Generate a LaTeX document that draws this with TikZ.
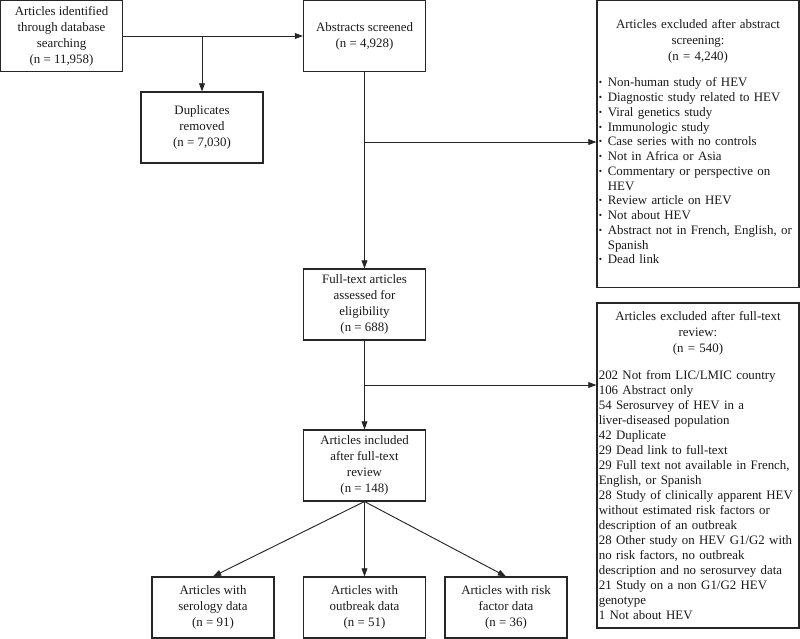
\documentclass[tikz,border=0pt]{standalone}
\usepackage{fontspec}
\setmainfont{Liberation Serif}
\usetikzlibrary{arrows.meta}

\newcommand{\bul}[1]{\par\noindent\makebox[0.7em][l]{\raisebox{0.15ex}{\footnotesize\textbullet}}#1}
\newcommand{\cont}[1]{\par\noindent\hspace*{0.7em}#1}

\begin{document}
\begin{tikzpicture}[x=0.03cm, y=-0.03cm,
        box/.style={draw=black!85, line width=0.9pt, align=center, minimum width=3.66cm, minimum height=2.13cm, inner sep=2pt, text=black!90, font=\fontsize{11}{13.6}\selectfont},
        excl/.style={draw=black!85, line width=0.9pt, align=left, text width=5.95cm, inner xsep=0.055cm, text=black!90, font=\fontsize{11}{13.6}\selectfont},
        link/.style={draw=black!85, line width=0.8pt, -{Triangle[length=7pt, width=5pt]}}]
    \useasboundingbox (0, 0) rectangle (800, 639);

    \node[box] (ident) at (61.5, 36) {Articles identified\\through database\\searching\\(n = 11,958)};
    \node[box] (screened) at (364.5, 36) {Abstracts screened\\(n = 4,928)};
    \node[box] (dupl) at (202, 127.5) {Duplicates\\removed\\(n = 7,030)};
    \node[box] (fulltext) at (364.5, 304.5) {Full-text articles\\assessed for\\eligibility\\(n = 688)};
    \node[box] (included) at (364.5, 465.5) {Articles included\\after full-text\\review\\(n = 148)};
    \node[box, minimum height=1.83cm] (serology) at (213, 607.5) {Articles with\\serology data\\(n = 91)};
    \node[box, minimum height=1.83cm] (outbreak) at (364.5, 607.5) {Articles with\\outbreak data\\(n = 51)};
    \node[box, minimum height=1.83cm] (riskfac) at (506, 607.5) {Articles with risk\\factor data\\(n = 36)};

    \node[excl, minimum height=8.61cm] (exclabs) at (698, 144) {%
        {\centering Articles excluded after abstract\\screening:\\(n = 4,240)\par}
        \vspace{10pt}
        {\fontsize{11}{12.6}\selectfont
        \bul{Non-human study of HEV}
        \bul{Diagnostic study related to HEV}
        \bul{Viral genetics study}
        \bul{Immunologic study}
        \bul{Case series with no controls}
        \bul{Not in Africa or Asia}
        \bul{Commentary or perspective on}
        \cont{HEV}
        \bul{Review article on HEV}
        \bul{Not about HEV}
        \bul{Abstract not in French, English, or}
        \cont{Spanish}
        \bul{Dead link}\par}
        \vspace{4pt}};
    \node[excl, minimum height=9.75cm] (exclft) at (698, 465.5) {%
        {\centering Articles excluded after full-text\\review:\\(n = 540)\par}
        \vspace{10pt}
        {\fontsize{11}{12.8}\selectfont
        202 Not from LIC/LMIC country\\
        106 Abstract only\\
        54 Serosurvey of HEV in a\\
        liver-diseased population\\
        42 Duplicate\\
        29 Dead link to full-text\\
        29 Full text not available in French,\\
        English, or Spanish\\
        28 Study of clinically apparent HEV\\
        without estimated risk factors or\\
        description of an outbreak\\
        28 Other study on HEV G1/G2 with\\
        no risk factors, no outbreak\\
        description and no serosurvey data\\
        21 Study on a non G1/G2 HEV\\
        genotype\\
        1 Not about HEV\par}};

    \coordinate (split1) at (202, 36);
    \coordinate (split2) at (364.5, 142);
    \coordinate (split3) at (364.5, 385);

    \draw[link] (ident) -- (screened);
    \draw[link] (split1) -- (dupl);
    \draw[link] (screened) -- (fulltext);
    \draw[link] (split2) -- (split2 -| exclabs.west);
    \draw[link] (fulltext) -- (included);
    \draw[link] (split3) -- (split3 -| exclft.west);

    \draw[link] (included.south) -- (serology.north);
    \draw[link] (included.south) -- (outbreak.north);
    \draw[link] (included.south) -- (riskfac.north);
\end{tikzpicture}
\end{document}
